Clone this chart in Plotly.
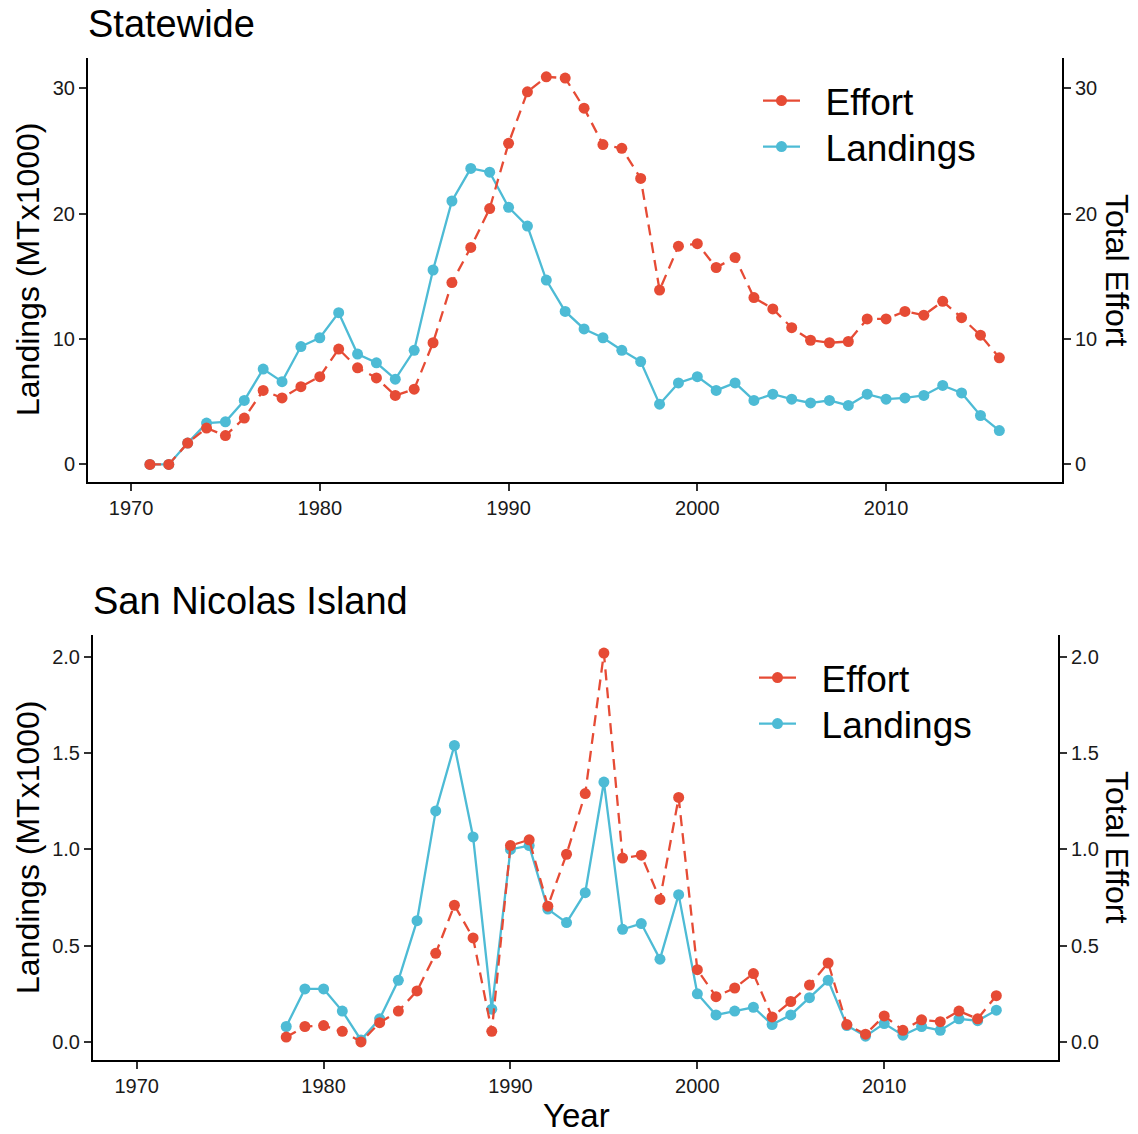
import plotly.graph_objects as go

# ---------------- data ----------------
years_sw = list(range(1971, 2017))
landings_sw = [0.0, 0.0, 1.7, 3.3, 3.4, 5.1, 7.6, 6.6, 9.4, 10.1, 12.1, 8.8, 8.1, 6.8, 9.1,
               15.5, 21.0, 23.6, 23.3, 20.5, 19.0, 14.7, 12.2, 10.8, 10.1, 9.1, 8.2, 4.8,
               6.5, 7.0, 5.9, 6.5, 5.1, 5.6, 5.2, 4.9, 5.1, 4.7, 5.6, 5.2, 5.3, 5.5, 6.3,
               5.7, 3.9, 2.7]
effort_sw = [0.0, 0.0, 1.7, 2.9, 2.3, 3.7, 5.9, 5.3, 6.2, 7.0, 9.2, 7.7, 6.9, 5.5, 6.0,
             9.7, 14.5, 17.3, 20.4, 25.6, 29.7, 30.9, 30.8, 28.4, 25.5, 25.2, 22.8, 13.9,
             17.4, 17.6, 15.7, 16.5, 13.3, 12.4, 10.9, 9.9, 9.7, 9.8, 11.6, 11.6, 12.2,
             11.9, 13.0, 11.7, 10.3, 8.5]

years_sni = list(range(1978, 2017))
landings_sni = [0.08, 0.275, 0.275, 0.16, 0.01, 0.12, 0.32, 0.63, 1.20, 1.54, 1.065, 0.17,
                1.00, 1.02, 0.69, 0.62, 0.775, 1.35, 0.585, 0.615, 0.43, 0.765, 0.25, 0.14,
                0.16, 0.18, 0.09, 0.14, 0.23, 0.32, 0.085, 0.03, 0.095, 0.035, 0.08, 0.06,
                0.12, 0.11, 0.165]
effort_sni = [0.025, 0.08, 0.085, 0.055, 0.0, 0.10, 0.16, 0.265, 0.46, 0.71, 0.54, 0.055,
              1.02, 1.05, 0.705, 0.975, 1.29, 2.02, 0.955, 0.97, 0.74, 1.27, 0.375, 0.235,
              0.28, 0.355, 0.13, 0.21, 0.295, 0.41, 0.09, 0.04, 0.135, 0.06, 0.115, 0.105,
              0.16, 0.12, 0.24]

x_ticks = [1970, 1980, 1990, 2000, 2010]
y_ticks_sw = [0, 10, 20, 30]
y_ticks_sni = [0.0, 0.5, 1.0, 1.5, 2.0]
y_ticktext_sni = ["0.0", "0.5", "1.0", "1.5", "2.0"]
series_names = ["Effort", "Landings"]

RED = "#E64B35"
BLUE = "#4DBBD5"
FONT = "Liberation Sans, Arial, sans-serif"
W, H = 1138, 1134
LW = 2.3
MS = 11
DASH = "11px,7px"

def px_x(p):
    return p / W

def px_y(p):
    return 1 - p / H

fig = go.Figure()

# ---- top panel traces ----
fig.add_trace(go.Scatter(x=years_sw, y=landings_sw, mode="lines+markers",
                         line=dict(color=BLUE, width=LW), marker=dict(size=MS, color=BLUE),
                         xaxis="x", yaxis="y", showlegend=False))
fig.add_trace(go.Scatter(x=years_sw, y=effort_sw, mode="lines+markers",
                         line=dict(color=RED, width=LW, dash=DASH), marker=dict(size=MS, color=RED),
                         xaxis="x", yaxis="y2", showlegend=False))
# ---- bottom panel traces ----
fig.add_trace(go.Scatter(x=years_sni, y=landings_sni, mode="lines+markers",
                         line=dict(color=BLUE, width=LW), marker=dict(size=MS, color=BLUE),
                         xaxis="x2", yaxis="y3", showlegend=False))
fig.add_trace(go.Scatter(x=years_sni, y=effort_sni, mode="lines+markers",
                         line=dict(color=RED, width=LW, dash=DASH), marker=dict(size=MS, color=RED),
                         xaxis="x2", yaxis="y4", showlegend=False))

# ---- legend entries (solid keys as in reference), one legend per item ----
legend_specs = [
    ("legend", "x", "y", series_names[0], RED),
    ("legend2", "x", "y", series_names[1], BLUE),
    ("legend3", "x2", "y3", series_names[0], RED),
    ("legend4", "x2", "y3", series_names[1], BLUE),
]
for lg, xa, ya, nm, col in legend_specs:
    fig.add_trace(go.Scatter(x=[None], y=[None], mode="lines+markers",
                             name="\u00a0\u00a0" + nm,
                             line=dict(color=col, width=LW), marker=dict(size=MS, color=col),
                             xaxis=xa, yaxis=ya, legend=lg))

tickfont = dict(family=FONT, size=20, color="#1a1a1a")
common_axis = dict(showgrid=False, zeroline=False, showline=True, linecolor="black",
                   linewidth=2, ticks="outside", ticklen=7, tickwidth=1.5, tickcolor="#333333",
                   tickfont=tickfont)

xr_top = [1967.72, 2019.32]
xr_bot = [1967.66, 2019.3]
top_dom_y = [px_y(482), px_y(58)]
bot_dom_y = [px_y(1060), px_y(635)]

def leg(xp, yp):
    return dict(x=px_x(xp), y=px_y(yp), xanchor="left", yanchor="middle",
                font=dict(family=FONT, size=37, color="black"), bgcolor="rgba(0,0,0,0)",
                itemwidth=37, borderwidth=0)

fig.update_layout(
    width=W, height=H,
    margin=dict(l=0, r=0, t=0, b=0),
    paper_bgcolor="white", plot_bgcolor="white",
    font=dict(family=FONT, color="black"),
    xaxis=dict(domain=[px_x(88), px_x(1062)], range=xr_top, anchor="y",
               tickvals=x_ticks, **common_axis),
    yaxis=dict(domain=top_dom_y, range=[-1.4, 32.4], anchor="x",
               tickvals=y_ticks_sw, **common_axis),
    yaxis2=dict(domain=top_dom_y, range=[-1.4, 32.4], overlaying="y", side="right",
                anchor="x", tickvals=y_ticks_sw, **common_axis),
    xaxis2=dict(domain=[px_x(93), px_x(1058)], range=xr_bot, anchor="y3",
                tickvals=x_ticks, **common_axis),
    yaxis3=dict(domain=bot_dom_y, range=[-0.094, 2.114], anchor="x2",
                tickvals=y_ticks_sni, ticktext=y_ticktext_sni, **common_axis),
    yaxis4=dict(domain=bot_dom_y, range=[-0.094, 2.114], overlaying="y3", side="right",
                anchor="x2", tickvals=y_ticks_sni, ticktext=y_ticktext_sni, **common_axis),
    legend=leg(758, 101),
    legend2=leg(758, 147),
    legend3=leg(754, 678),
    legend4=leg(754, 724),
)

annos = [
    dict(text="Statewide", x=px_x(86), y=px_y(24), xanchor="left", yanchor="middle",
         font=dict(size=38)),
    dict(text="San Nicolas Island", x=px_x(91), y=px_y(601), xanchor="left", yanchor="middle",
         font=dict(size=38)),
    dict(text="Landings (MTx1000)", x=px_x(28), y=px_y(270), xanchor="center", yanchor="middle",
         textangle=-90, font=dict(size=32)),
    dict(text="Landings (MTx1000)", x=px_x(28), y=px_y(848), xanchor="center", yanchor="middle",
         textangle=-90, font=dict(size=32)),
    dict(text="Total Effort", x=px_x(1117), y=px_y(270), xanchor="center", yanchor="middle",
         textangle=90, font=dict(size=32)),
    dict(text="Total Effort", x=px_x(1117), y=px_y(847), xanchor="center", yanchor="middle",
         textangle=90, font=dict(size=32)),
    dict(text="Year", x=px_x(576), y=px_y(1115), xanchor="center", yanchor="middle",
         font=dict(size=33)),
]
for a in annos:
    a.update(xref="paper", yref="paper", showarrow=False)
    a["font"].update(family=FONT, color="black")
fig.update_layout(annotations=annos)

fig.write_html("out.html", config={"displayModeBar": False},
               post_script="document.body.style.margin='0';document.body.style.overflow='hidden';")
